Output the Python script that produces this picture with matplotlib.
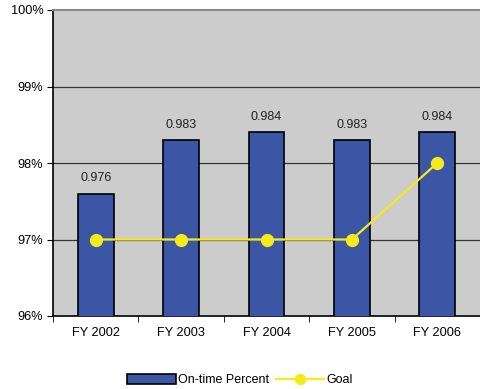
import matplotlib
matplotlib.use("Agg")
import matplotlib.pyplot as plt
from matplotlib.ticker import FuncFormatter, FixedLocator

plt.rcParams['font.family'] = ['Liberation Sans', 'DejaVu Sans']

categories = ["FY 2002", "FY 2003", "FY 2004", "FY 2005", "FY 2006"]
ontime = [0.976, 0.983, 0.984, 0.983, 0.984]
goal = [0.97, 0.97, 0.97, 0.97, 0.98]

fig = plt.figure(figsize=(4.8, 3.89), dpi=100)
ax = fig.add_axes([53/480, 1 - 316/389, (480 - 53)/480, (316 - 10)/389])
ax.set_facecolor('#cccccc')

x = list(range(len(categories)))
bars = ax.bar(x, ontime, width=0.42, color='#3a56a5', edgecolor='black', linewidth=1.2, zorder=3,
              label='On-time Percent')
for xi, v in zip(x, ontime):
    ax.text(xi, v + 0.0012, f"{v:.3f}", ha='center', va='bottom', fontsize=9, color='#222222', zorder=5)

ax.plot(x, goal, color='#f5ea1a', linewidth=1.6, marker='o', markersize=8.5,
        markerfacecolor='#f5ea1a', markeredgecolor='#f5ea1a', zorder=4, label='Goal')

ax.set_ylim(0.96, 1.00)
ax.set_xlim(-0.5, len(categories) - 0.5)
ax.set_yticks([0.96, 0.97, 0.98, 0.99, 1.00])
ax.yaxis.set_major_formatter(FuncFormatter(lambda v, p: f"{round(v*100)}%"))
ax.set_xticks(x)
ax.set_xticklabels(categories)
ax.tick_params(axis='x', length=0, labelsize=9.2, pad=8)
ax.xaxis.set_minor_locator(FixedLocator([i + 0.5 for i in range(len(categories) - 1)] + [-0.5, len(categories) - 0.5]))
ax.tick_params(axis='x', which='minor', length=4, direction='out', color='black')
ax.tick_params(axis='y', length=4, direction='out', labelsize=9.2, pad=3)

for yv in [0.97, 0.98, 0.99]:
    ax.axhline(yv, color='#333333', linewidth=0.9, zorder=1)

ax.spines['top'].set_color('#888888')
ax.spines['top'].set_linewidth(1.5)
ax.spines['right'].set_visible(False)
ax.spines['left'].set_color('black')
ax.spines['bottom'].set_color('black')
ax.spines['left'].set_linewidth(1.2)
ax.spines['bottom'].set_linewidth(1.2)

leg = fig.legend(handles=[bars, ax.lines[0]], labels=['On-time Percent', 'Goal'],
                 loc='center', bbox_to_anchor=(0.5, 1 - 380/389), ncol=2, frameon=False,
                 fontsize=9, handlelength=3.9, handleheight=0.8, handletextpad=0.2,
                 columnspacing=0.5, markerscale=0.85)

fig.savefig("out.png", dpi=100)
